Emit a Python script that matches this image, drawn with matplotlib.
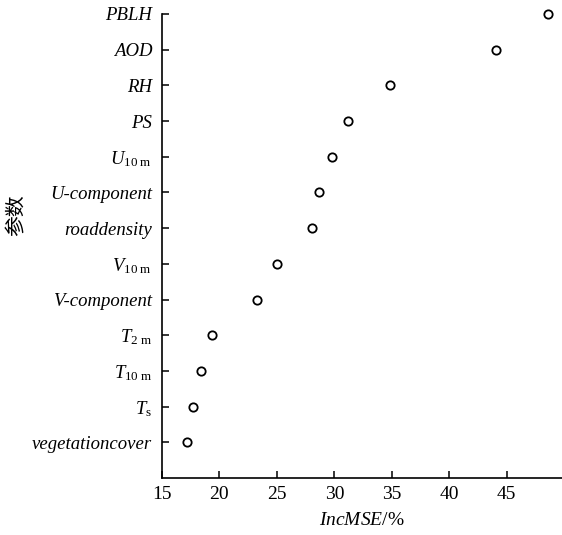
import matplotlib
matplotlib.use("Agg")
import matplotlib.pyplot as plt

plt.rcParams['font.family'] = ['Liberation Serif', 'Noto Sans CJK SC', 'DejaVu Sans']
plt.rcParams['mathtext.fontset'] = 'custom'
plt.rcParams['mathtext.rm'] = 'Liberation Serif'
plt.rcParams['mathtext.it'] = 'Liberation Serif:italic'
plt.rcParams['mathtext.bf'] = 'Liberation Serif:bold'

# Data (top to bottom as in reference)
labels = ["PBLH", "AOD", "RH", "PS", r"$U_{\mathrm{10\ m}}$",
          "U-component", "roaddensity", r"$V_{\mathrm{10\ m}}$",
          "V-component", r"$T_{\mathrm{2\ m}}$", r"$T_{\mathrm{10\ m}}$",
          r"$T_{\mathrm{s}}$", "vegetationcover"]
values = [48.6, 44.1, 34.8, 31.2, 29.8, 28.7, 28.1, 25.0, 23.3, 19.4, 18.4, 17.7, 17.2]
xticks = [15, 20, 25, 30, 35, 40, 45]

fig = plt.figure(figsize=(5.62, 5.35), dpi=100)
ax = fig.add_axes([0.288, 0.1065, 0.712, 0.8675])

n = len(labels)
ypos = list(range(n, 0, -1))
ax.plot(values, ypos, linestyle='none', marker='o', markersize=6,
        markerfacecolor='white', markeredgecolor='black', markeredgewidth=1.3,
        clip_on=False)

ax.set_ylim(0, n)
ax.set_xlim(15, 49.8)
ax.set_yticks(ypos)
ax.set_yticklabels(labels, fontsize=13.5, fontstyle='italic')
ax.set_xticks(xticks)
ax.set_xticklabels([str(t) for t in xticks], fontsize=14)
ax.tick_params(direction='in', length=5, width=1.1, colors='black')
ax.tick_params(axis='y', pad=7)
ax.tick_params(axis='x', pad=6)

for s in ['top', 'right']:
    ax.spines[s].set_visible(False)
for s in ['left', 'bottom']:
    ax.spines[s].set_linewidth(1.2)

ax.set_xlabel(r"$IncMSE$/%", fontsize=14)
ax.xaxis.set_label_coords(0.5, -0.073)
ax.set_ylabel("参数", fontsize=15, family=['Noto Sans CJK SC'])
ax.yaxis.set_label_coords(-0.335, 0.567)

fig.savefig("out.png", dpi=100)
